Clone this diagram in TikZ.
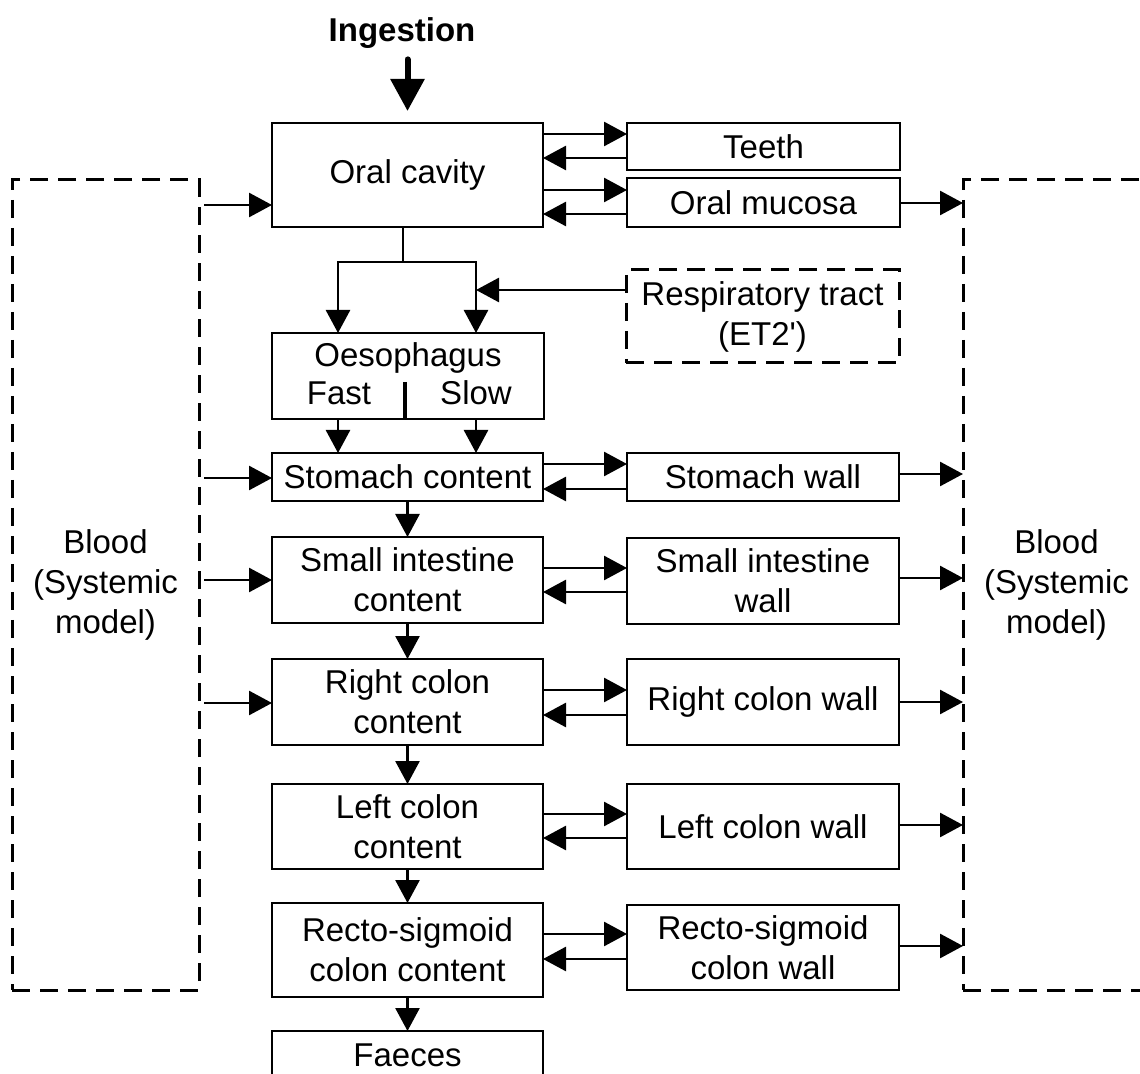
\documentclass[tikz,border=0pt]{standalone}
\usepackage{fontspec}
\setmainfont{Liberation Sans}
\usetikzlibrary{arrows.meta}
\begin{document}
\begin{tikzpicture}[x=0.5pt,y=-0.5pt,
  every node/.style={font=\fontsize{16.5}{20}\selectfont},
  box/.style={draw, line width=1.35pt, inner sep=0pt, outer sep=0pt, align=center},
  dbox/.style={box, line width=1.5pt, dash pattern=on 9pt off 5pt},
  arr/.style={line width=1.35pt, -{Triangle[length=11.5pt,width=12pt]}},
  bigarr/.style={line width=3pt, line cap=round, -{Triangle[length=16pt,width=16.5pt]}}]
\useasboundingbox (0,0) rectangle (1140,1074);
\clip (0,0) rectangle (1140,1074);

% blood compartments on both sides
\node[dbox, minimum width=93.5pt, minimum height=405pt] (bloodL) at (105.5,585) {Blood\\(Systemic\\model)};
\node[dbox, minimum width=93.5pt, minimum height=405pt] (bloodR) at (1056.5,585) {Blood\\(Systemic\\model)};

% intake
\node[font=\bfseries\fontsize{16.5}{20}\selectfont, anchor=base, inner sep=0pt] (ingest) at (402,42) {Ingestion};

% oral region
\node[box, minimum width=135.5pt, minimum height=52pt] (oral) at (407.5,175) {Oral cavity};
\node[box, minimum width=136.5pt, minimum height=23.5pt] (teeth) at (763.5,146.5) {Teeth};
\node[box, minimum width=136.5pt, minimum height=24.5pt] (mucosa) at (763.5,202.5) {Oral mucosa};
\node[dbox, minimum width=136.5pt, minimum height=46.5pt] (resp) at (762.5,316.5) {Respiratory tract\\(ET2\textquotesingle)};

% oesophagus with fast and slow transit
\node[box, minimum width=136pt, minimum height=43pt] (oeso) at (408,376) {};
\node[anchor=base] (oesotxt) at (408,367) {Oesophagus};
\node[anchor=base] (fast) at (339,405) {Fast};
\node[anchor=base] (slow) at (476,405) {Slow};

% alimentary tract contents and walls
\node[box, minimum width=135.5pt, minimum height=24pt] (stomc) at (407.5,477) {Stomach content};
\node[box, minimum width=136pt, minimum height=24pt] (stomw) at (763,477) {Stomach wall};
\node[box, minimum width=135.5pt, minimum height=43pt] (sic) at (407.5,580) {Small intestine\\content};
\node[box, minimum width=136pt, minimum height=43pt] (siw) at (763,581) {Small intestine\\wall};
\node[box, minimum width=135.5pt, minimum height=43pt] (rcc) at (407.5,702) {Right colon\\content};
\node[box, minimum width=136pt, minimum height=43pt] (rcw) at (763,702) {Right colon wall};
\node[box, minimum width=135.5pt, minimum height=42.5pt] (lcc) at (407.5,826.5) {Left colon\\content};
\node[box, minimum width=136pt, minimum height=42.5pt] (lcw) at (763,826.5) {Left colon wall};
\node[box, minimum width=135.5pt, minimum height=47pt] (rsc) at (407.5,950) {Recto-sigmoid\\colon content};
\node[box, minimum width=136pt, minimum height=42.5pt] (rsw) at (763,947.5) {Recto-sigmoid\\colon wall};
\node[box, minimum width=135.5pt, minimum height=24.5pt] (faeces) at (407.5,1055.5) {Faeces};

% ingestion arrow
\draw[bigarr, shorten <=5pt, shorten >=6pt] (ingest.south -| oral.north) -- (oral.north);

% oral cavity to oesophagus, split into fast and slow
\coordinate (split) at (403,262);
\coordinate (fastcol) at (338,0);
\coordinate (slowcol) at (476,0);
\coordinate (respy) at (0,290);
\coordinate (divtop) at (405,382);
\draw[arr] (oral.south -| split) -- (split) -| (oeso.north -| fastcol);
\draw[arr] (split) -| (oeso.north -| slowcol);
\draw[arr] (resp.west |- respy) -- (slowcol |- respy);
\draw[line width=1.8pt] (divtop) -- (divtop |- oeso.south);
\draw[arr] (oeso.south -| fastcol) -- (stomc.north -| fastcol);
\draw[arr] (oeso.south -| slowcol) -- (stomc.north -| slowcol);

% transit down the tract
\draw[arr] (stomc.south) -- (sic.north);
\draw[arr] (sic.south) -- (rcc.north);
\draw[arr] (rcc.south) -- (lcc.north);
\draw[arr] (lcc.south) -- (rsc.north);
\draw[arr] (rsc.south) -- (faeces.north);

% exchange between contents and walls
\foreach \c/\w/\a/\b in {oral/teeth/134/158, oral/mucosa/190/214, stomc/stomw/464/489,
    sic/siw/568/592, rcc/rcw/690/715, lcc/lcw/814/838, rsc/rsw/934/959} {
  \draw[arr] (\c.east |- 0,\a) -- (\w.west |- 0,\a);
  \draw[arr] (\w.west |- 0,\b) -- (\c.east |- 0,\b);
}

% secretion from blood and absorption into blood
\foreach \n/\yy in {oral/205, stomc/478, sic/580, rcc/703}
  \draw[arr, shorten <=2.5pt] (bloodL.east |- 0,\yy) -- (\n.west |- 0,\yy);
\foreach \n/\yy in {mucosa/203, stomw/474, siw/578, rcw/702, lcw/825, rsw/946}
  \draw[arr] (\n.east |- 0,\yy) -- (bloodR.west |- 0,\yy);
\end{tikzpicture}
\end{document}
